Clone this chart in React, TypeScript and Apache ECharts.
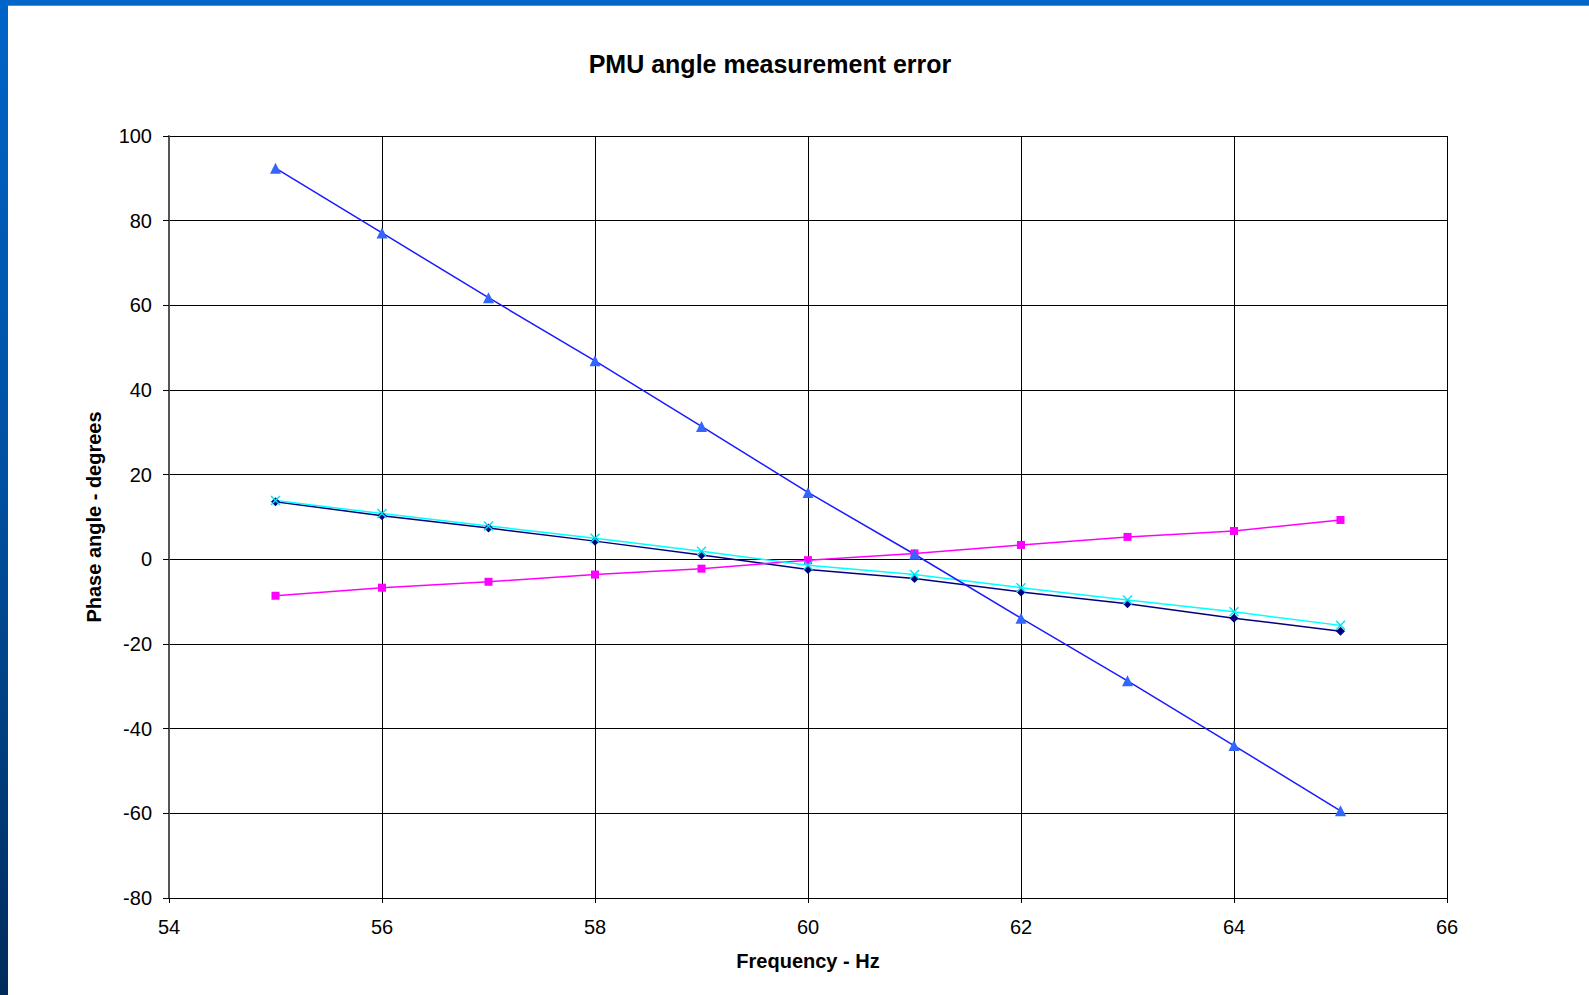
import React, { useEffect, useRef } from "react";
import * as echarts from "echarts";

const freq = [55, 56, 57, 58, 59, 60, 61, 62, 63, 64, 65];
const seriesTriangle = [92.4, 77.1, 61.8, 46.9, 31.4, 15.8, 1.2, -13.9, -28.7, -44.0, -59.4];
const seriesSquare = [-8.6, -6.7, -5.3, -3.6, -2.2, -0.2, 1.4, 3.4, 5.3, 6.7, 9.3];
const seriesDiamond = [13.6, 10.3, 7.4, 4.3, 1.0, -2.4, -4.5, -7.7, -10.5, -13.9, -17.0];
const seriesCross = [13.9, 10.8, 7.9, 5.0, 1.9, -1.4, -3.6, -6.7, -9.6, -12.4, -15.6];

const pair = (ys: number[]) => freq.map((x, i) => [x, ys[i]]);

const X_PATH =
  "path://M0,1 L1,0 L5,4 L9,0 L10,1 L6,5 L10,9 L9,10 L5,6 L1,10 L0,9 L4,5 Z";

export default function App() {
  const ref = useRef<HTMLDivElement>(null);
  useEffect(() => {
    document.body.style.margin = "0";
    const chart = echarts.init(ref.current!, null, { renderer: "svg" });
    const font = "Liberation Sans, Arial, sans-serif";
    chart.setOption({
      animation: false,
      backgroundColor: "#ffffff",
      textStyle: { fontFamily: font },
      title: {
        text: "PMU angle measurement error",
        left: 765,
        top: 46,
        textAlign: "center",
        textStyle: { fontSize: 25, fontWeight: "bold", color: "#000", fontFamily: font },
      },
      graphic: [
        {
          type: "rect",
          shape: { x: 0, y: 0, width: 1589, height: 5 },
          style: { fill: "#0064c8" },
          z: 100,
        },
        {
          type: "rect",
          shape: { x: 0, y: 5, width: 1589, height: 1 },
          style: { fill: "#4a90da" },
          z: 100,
        },
        {
          type: "rect",
          shape: { x: 0, y: 0, width: 8, height: 995 },
          style: {
            fill: new echarts.graphic.LinearGradient(0, 0, 0, 1, [
              { offset: 0, color: "#0064c8" },
              { offset: 0.5, color: "#0050a0" },
              { offset: 1, color: "#002c5c" },
            ]),
          },
          z: 100,
        },
      ],
      grid: { left: 169, right: 142, top: 136, bottom: 97, containLabel: false },
      xAxis: {
        type: "value",
        min: 54,
        max: 66,
        interval: 2,
        name: "Frequency - Hz",
        nameLocation: "middle",
        nameGap: 53,
        nameTextStyle: { fontSize: 20, fontWeight: "bold", color: "#000" },
        axisLine: { show: true, onZero: false, lineStyle: { color: "#000", width: 1 } },
        axisTick: { show: true, length: 5, lineStyle: { color: "#000" } },
        axisLabel: { fontSize: 20, color: "#000", margin: 19 },
        splitLine: { show: true, lineStyle: { color: "#000", width: 1 } },
      },
      yAxis: {
        type: "value",
        min: -80,
        max: 100,
        interval: 20,
        name: "Phase angle - degrees",
        nameLocation: "middle",
        nameGap: 65,
        nameTextStyle: { fontSize: 20, fontWeight: "bold", color: "#000" },
        axisLine: { show: true, onZero: false, lineStyle: { color: "#555", width: 2 } },
        axisTick: { show: true, length: 6, lineStyle: { color: "#000" } },
        axisLabel: { fontSize: 20, color: "#000", margin: 17 },
        splitLine: { show: true, lineStyle: { color: "#000", width: 1 } },
      },
      series: [
        {
          type: "line",
          data: pair(seriesDiamond),
          symbol: "diamond",
          symbolSize: 9,
          showAllSymbol: true,
          lineStyle: { color: "#000080", width: 1.5 },
          itemStyle: { color: "#000080" },
        },
        {
          type: "line",
          data: pair(seriesSquare),
          symbol: "rect",
          symbolSize: 8,
          lineStyle: { color: "#ff00ff", width: 1.5 },
          itemStyle: { color: "#ff00ff" },
        },
        {
          type: "line",
          data: pair(seriesCross),
          symbol: X_PATH,
          symbolSize: 10,
          lineStyle: { color: "#00ffff", width: 1.5 },
          itemStyle: { color: "#00e5f0" },
        },
        {
          type: "line",
          data: pair(seriesTriangle),
          symbol: "triangle",
          symbolSize: 11,
          lineStyle: { color: "#1a1aff", width: 1.5 },
          itemStyle: { color: "#3366ff" },
        },
      ],
    });
    return () => chart.dispose();
  }, []);
  return <div ref={ref} style={{ width: 1589, height: 995 }} />;
}
